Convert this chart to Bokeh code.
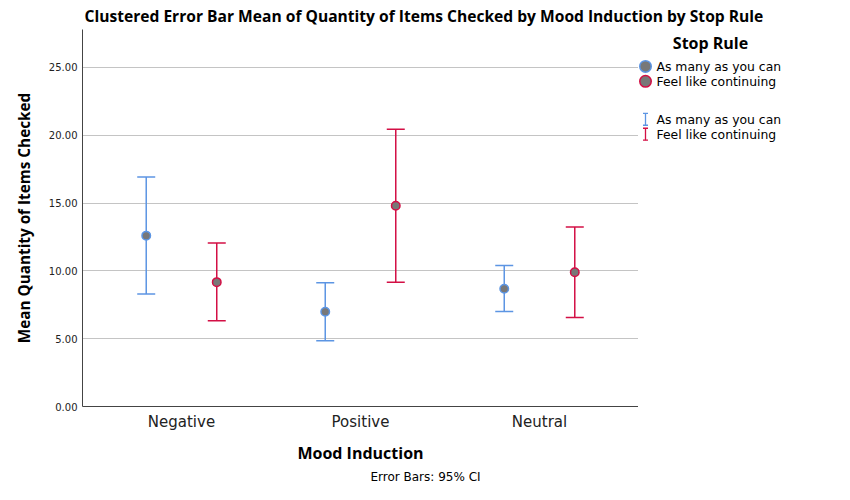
from bokeh.plotting import figure
from bokeh.layouts import column, row
from bokeh.models import (Whisker, TeeHead, FixedTicker, ColumnDataSource, Range1d,
                          NumeralTickFormatter)
from bokeh.transform import dodge
from bokeh.core.properties import value
from bokeh.embed import file_html
from bokeh.resources import INLINE

# ---- data ----
categories = ["Negative", "Positive", "Neutral"]
stop_rules = ["As many as you can", "Feel like continuing"]
mean_many = [12.60, 6.99, 8.68]
lower_many = [8.29, 4.85, 7.01]
upper_many = [16.93, 9.12, 10.39]
mean_feel = [9.17, 14.80, 9.90]
lower_feel = [6.32, 9.17, 6.57]
upper_feel = [12.06, 20.44, 13.24]
y_ticks = [0, 5, 10, 15, 20, 25]

TITLE = "Clustered Error Bar Mean of Quantity of Items Checked by Mood Induction by Stop Rule"
FOOT = "Error Bars: 95% CI"
LEGEND_TITLE = "Stop Rule"

BLUE = "#5C95E3"
RED = "#D30F45"
COLORS = [BLUE, RED]
FILL = "#787878"
FONT = "DejaVu Sans"
BFONT = "Open Sans"

TOTAL_W = 834
TOP_H = 29
MAIN_W, MAIN_H = 638, 437
FRAME_H = 378
FOOT_H = 18


def blank(w, h, yspan=None):
    ys = h if yspan is None else yspan
    f = figure(width=w, height=h, output_backend="svg", toolbar_location=None,
               x_range=Range1d(0, w), y_range=Range1d(ys, 0),
               x_axis_type=None, y_axis_type=None,
               min_border=0, min_border_left=0, min_border_right=0,
               min_border_top=0, min_border_bottom=0)
    f.outline_line_color = None
    f.grid.visible = False
    f.background_fill_color = "white"
    f.border_fill_color = "white"
    return f


# ---- title strip ----
top = blank(TOTAL_W, TOP_H)
top.text(x=[84], y=[15], text=[TITLE], text_font=value(BFONT), text_font_style="bold",
         text_font_size="15.6px", text_align="left", text_baseline="middle", text_color="black")

# ---- main chart ----
xs = list(range(len(categories)))
src_many = ColumnDataSource(dict(x=xs, mean=mean_many, lower=lower_many, upper=upper_many))
src_feel = ColumnDataSource(dict(x=xs, mean=mean_feel, lower=lower_feel, upper=upper_feel))

p = figure(width=MAIN_W, height=MAIN_H, output_backend="svg", toolbar_location=None,
           x_range=Range1d(-0.553, 2.553), y_range=Range1d(0, 27.8),
           min_border_left=82, min_border_right=0, min_border_top=0,
           min_border_bottom=MAIN_H - FRAME_H)
p.outline_line_color = None
p.background_fill_color = "white"
p.border_fill_color = "white"

p.xgrid.visible = False
p.ygrid.ticker = FixedTicker(ticks=y_ticks)
p.ygrid.grid_line_color = "#c4c4c4"
p.ygrid.grid_line_width = 1

p.yaxis.ticker = FixedTicker(ticks=y_ticks)
p.yaxis.formatter = NumeralTickFormatter(format="0.00")
p.xaxis.ticker = FixedTicker(ticks=xs)
p.xaxis.major_label_overrides = {i: c for i, c in enumerate(categories)}

for ax in (p.xaxis[0], p.yaxis[0]):
    ax.axis_line_color = "#444444"
    ax.major_tick_line_color = None
    ax.minor_tick_line_color = None
    ax.major_tick_out = 0
    ax.major_tick_in = 0
    ax.minor_tick_out = 0
    ax.major_label_text_font = FONT
    ax.axis_label_text_font = BFONT
    ax.axis_label_text_font_style = "bold"
    ax.axis_label_text_color = "black"
    ax.major_label_text_color = "#222222"

p.yaxis.axis_label = "Mean Quantity of Items Checked"
p.yaxis.axis_label_text_font_size = "15.3px"
p.yaxis.major_label_text_font_size = "10px"
p.yaxis.major_label_standoff = 5
p.yaxis.axis_label_standoff = 12

p.xaxis.axis_label = "Mood Induction"
p.xaxis.axis_label_text_font_size = "16px"
p.xaxis.major_label_text_font_size = "15px"
p.xaxis.major_label_standoff = 6
p.xaxis.axis_label_standoff = 8

off = 0.197
for src, col, sh in ((src_many, BLUE, -off), (src_feel, RED, off)):
    w = Whisker(source=src, base=dodge("x", sh), upper="upper", lower="lower",
                line_color=col, line_width=1.5, level="underlay",
                upper_head=TeeHead(size=18, line_color=col, line_width=1.5),
                lower_head=TeeHead(size=18, line_color=col, line_width=1.5))
    p.add_layout(w)
    p.scatter(x=dodge("x", sh), y="mean", source=src, size=8.5,
              fill_color=FILL, line_color=col, line_width=1.5)

# ---- legend panel (right of the chart; its frame is aligned with the chart frame) ----
LEG_W = TOTAL_W - MAIN_W
leg = blank(LEG_W, MAIN_H, yspan=FRAME_H)
leg.text(x=[72], y=[14], text=[LEGEND_TITLE], text_font=value(BFONT), text_font_style="bold",
         text_font_size="16px", text_align="center", text_baseline="middle", text_color="black")
mk_y = [37, 52]
leg.scatter(x=[7, 7], y=mk_y, size=11.5, fill_color=FILL, line_color=COLORS, line_width=1.5)
leg.text(x=[18, 18], y=mk_y, text=stop_rules, text_font=value(FONT), text_font_size="12.4px",
         text_align="left", text_baseline="middle", text_color="black")
eb_y = [90, 105]
leg.segment(x0=[7, 7], y0=[y - 6 for y in eb_y], x1=[7, 7], y1=[y + 6 for y in eb_y],
            line_color=COLORS, line_width=1.3)
leg.segment(x0=[4.5, 4.5], y0=[y - 6 for y in eb_y], x1=[9.5, 9.5], y1=[y - 6 for y in eb_y],
            line_color=COLORS, line_width=1.3)
leg.segment(x0=[4.5, 4.5], y0=[y + 6 for y in eb_y], x1=[9.5, 9.5], y1=[y + 6 for y in eb_y],
            line_color=COLORS, line_width=1.3)
leg.text(x=[18, 18], y=eb_y, text=stop_rules, text_font=value(FONT), text_font_size="12.4px",
         text_align="left", text_baseline="middle", text_color="black")

# ---- footnote strip ----
foot = blank(TOTAL_W, FOOT_H)
foot.text(x=[425], y=[10], text=[FOOT], text_font=value(FONT), text_font_size="12px",
          text_align="center", text_baseline="middle", text_color="black")

layout = column(top, row(p, leg, spacing=0), foot, spacing=0)
open("out.html", "w").write(file_html(layout, INLINE))
